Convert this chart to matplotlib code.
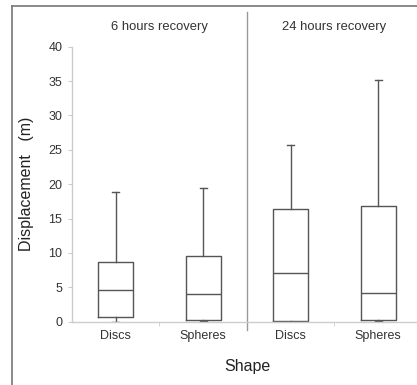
import matplotlib
matplotlib.use("Agg")
import matplotlib.pyplot as plt
from matplotlib.lines import Line2D

plt.rcParams['font.family'] = ['Liberation Sans', 'DejaVu Sans']

categories = ["Discs", "Spheres", "Discs", "Spheres"]
groups = ["6 hours recovery", "24 hours recovery"]
whislo = [0.0, 0.1, 0.0, 0.1]
q1 = [0.73, 0.25, 0.05, 0.2]
med = [4.56, 3.98, 7.04, 4.13]
q3 = [8.64, 9.56, 16.35, 16.9]
whishi = [18.8, 19.5, 25.75, 35.15]

fig = plt.figure(figsize=(4.17, 3.85), dpi=100)
W, H = 417, 385
ax = fig.add_axes([72 / W, (H - 321.7) / H, 350 / W, 275 / H])

stats = []
for i in range(4):
    stats.append(dict(whislo=whislo[i], q1=q1[i], med=med[i], q3=q3[i], whishi=whishi[i], fliers=[]))

boxc = "#555555"
ax.bxp(stats, positions=[1, 2, 3, 4], widths=0.4, showfliers=False,
       boxprops=dict(color=boxc, linewidth=1.0),
       medianprops=dict(color=boxc, linewidth=1.0),
       whiskerprops=dict(color=boxc, linewidth=1.0),
       capprops=dict(color=boxc, linewidth=1.0),
       capwidths=0.08)

ax.set_xlim(0.5, 4.5)
ax.set_ylim(0, 40)
ax.set_yticks(range(0, 41, 5))
ax.set_xticks([1, 2, 3, 4])
ax.set_xticklabels(categories)
ax.set_xticks([1.5, 3.5], minor=True)

for s in ["top", "right"]:
    ax.spines[s].set_visible(False)
for s in ["left", "bottom"]:
    ax.spines[s].set_color("#cccccc")
    ax.spines[s].set_linewidth(1.0)

ax.tick_params(axis="y", colors="#cccccc", labelcolor="#333333", labelsize=9, length=3, pad=4)
ax.tick_params(axis="x", which="major", length=0, labelcolor="#333333", labelsize=9, pad=6)
ax.tick_params(axis="x", which="minor", length=3, color="#cccccc")

ax.set_ylabel("Displacement   (m)", fontsize=11.5, color="#222222", labelpad=10)
ax.set_xlabel("Shape", fontsize=11.5, color="#222222", labelpad=12)

ax.axvline(2.5, ymin=(321.7 - 330) / 275, ymax=(321.7 - 12) / 275, color="#999999", linewidth=1.0, clip_on=False)

for gx, g in zip([1.5, 3.5], groups):
    ax.text(gx, 1.072, g, transform=ax.get_xaxis_transform(), ha="center", va="center",
            fontsize=9.4, color="#333333")

# outer frame
fig.add_artist(Line2D([11.5 / W, 1.0], [1 - 6 / H, 1 - 6 / H], transform=fig.transFigure, color="#777777", linewidth=1.2))
fig.add_artist(Line2D([11.5 / W, 11.5 / W], [0, 1 - 6 / H], transform=fig.transFigure, color="#777777", linewidth=1.2))

fig.savefig("out.png", dpi=100, facecolor="white")
